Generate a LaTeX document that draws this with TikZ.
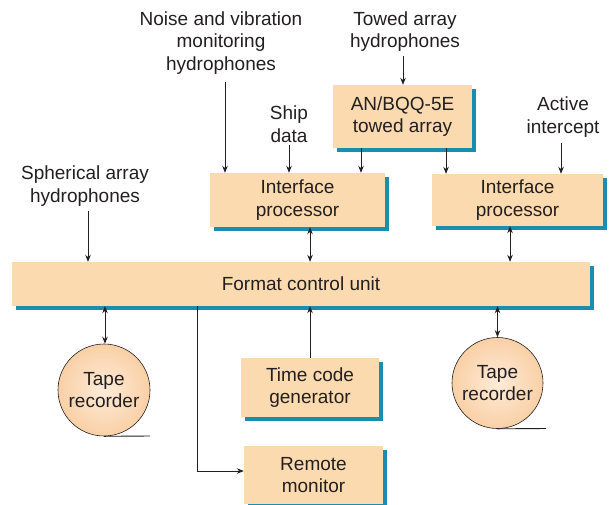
\documentclass[tikz,border=0pt]{standalone}
\usepackage{fontspec}
\setmainfont{Liberation Sans}
\usetikzlibrary{arrows.meta,shadows}
\definecolor{boxfill}{HTML}{FCDAB0}
\definecolor{shadowblue}{HTML}{1A8DB3}
\definecolor{ink}{HTML}{231F20}
\definecolor{tapein}{HTML}{FEEBD8}
\definecolor{tapeout}{HTML}{F9D0A6}
\begin{document}
\begin{tikzpicture}[x=1pt,y=-1pt,
  txt/.style={align=center,text=ink,inner sep=0pt,font=\fontsize{19}{22.5}\selectfont},
  blk/.style={txt,fill=boxfill,draw=none,
     drop shadow={shadow xshift=4pt,shadow yshift=-4pt,fill=shadowblue,opacity=1}},
  tape/.style={txt,circle,draw=ink,line width=0.6pt,inner color=tapein,outer color=tapeout},
  arr/.style={draw=ink,line width=0.9pt,-{Stealth[length=7pt,width=5.5pt]}},
  darr/.style={draw=ink,line width=0.9pt,{Stealth[length=7pt,width=5.5pt]}-{Stealth[length=7pt,width=5.5pt]}},
  ln/.style={draw=ink,line width=0.9pt}]
\useasboundingbox (0,0) rectangle (609,504);

% boxes
\node[blk,minimum width=578pt,minimum height=44pt] (fcu) at (301,284) {Format control unit};
\node[blk,minimum width=175pt,minimum height=54pt] (ipL) at (297.5,200) {Interface\\processor};
\node[blk,minimum width=139pt,minimum height=63pt] (an) at (402.5,116.5) {AN/BQQ-5E\\towed array};
\node[blk,minimum width=171pt,minimum height=52pt] (ipR) at (517.5,200) {Interface\\processor};
\node[blk,minimum width=138pt,minimum height=59pt] (tcg) at (310,387.5) {Time code\\generator};
\node[blk,minimum width=139pt,minimum height=58pt] (rm) at (313.5,475) {Remote\\monitor};

% tape recorders
\node[tape,minimum size=92pt] (tapeL) at (104,390) {Tape\\recorder};
\node[tape,minimum size=91pt] (tapeR) at (497.5,383) {Tape\\recorder};
\coordinate (tapeLend) at (150,436);
\coordinate (tapeRend) at (546,428.5);
\draw[ln] (tapeL.south) -- (tapeLend);
\draw[ln] (tapeR.south) -- (tapeRend);

% labels
\node[txt] (noise) at (221,43) {Noise and vibration\\monitoring\\hydrophones};
\node[txt] (ship) at (289,124) {Ship\\data};
\node[txt] (towed) at (405,31.5) {Towed array\\hydrophones};
\node[txt] (active) at (563,117) {Active\\intercept};
\node[txt] (sph) at (85,186) {Spherical array\\hydrophones};

% arrow tails
\coordinate (noiseT) at (225,82);
\coordinate (shipT) at (289,145);
\coordinate (towedT) at (403,56);
\coordinate (activeT) at (561,143);
\coordinate (sphT) at (88,211);
\coordinate (xa) at (361,0);
\coordinate (xb) at (446,0);
\coordinate (xc) at (310,0);
\coordinate (xd) at (510,0);
\coordinate (xe) at (105,0);
\coordinate (xf) at (497.5,0);
\coordinate (xg) at (197,0);
\coordinate (bend) at (197,471);

\draw[arr] (noiseT) -- (noiseT |- ipL.north);
\draw[arr] (shipT) -- (shipT |- ipL.north);
\draw[arr] (towedT) -- (towedT |- an.north);
\draw[arr] (xa |- an.south) -- (xa |- ipL.north);
\draw[arr] (xb |- an.south) -- (xb |- ipR.north);
\draw[arr] (activeT) -- (activeT |- ipR.north);
\draw[arr] (sphT) -- (sphT |- fcu.north);
\draw[darr] (xc |- ipL.south) -- (xc |- fcu.north);
\draw[darr] (xd |- ipR.south) -- (xd |- fcu.north);
\draw[darr] (xe |- fcu.south) -- (xe |- tapeL.north);
\draw[darr] (xf |- fcu.south) -- (tapeR.north);
\draw[arr] (tcg.north) -- (tcg.north |- fcu.south);
\draw[arr] (xg |- fcu.south) -- (bend) -- (bend -| rm.west);
\end{tikzpicture}
\end{document}
